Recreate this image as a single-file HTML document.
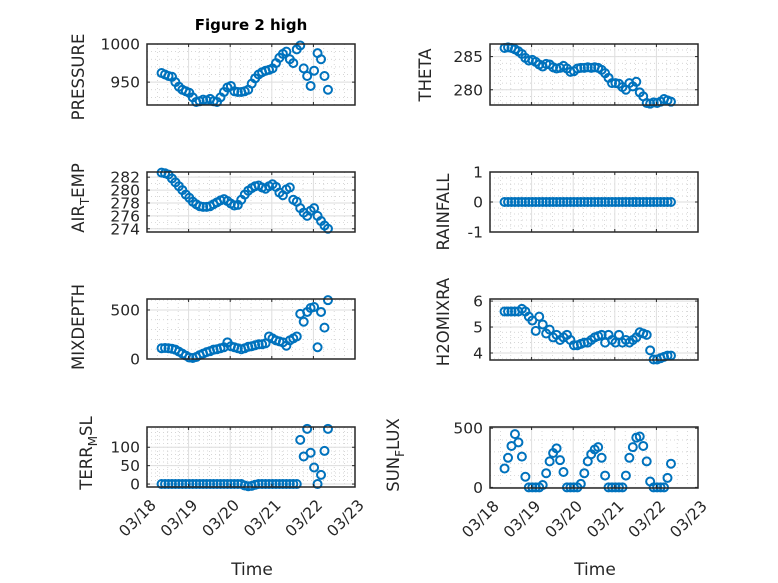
<!DOCTYPE html>
<html><head><meta charset="utf-8"><style>
html,body{margin:0;padding:0;background:#fff;}
svg{display:block;font-family:"DejaVu Sans","Liberation Sans",sans-serif;}
</style></head><body>
<svg id="fig" width="778" height="583" viewBox="0 0 778 583" xmlns="http://www.w3.org/2000/svg">
<rect width="778" height="583" fill="#fff"/>
<text x="251" y="30" text-anchor="middle" font-size="15" font-weight="bold" fill="#000">Figure 2 high</text>
</svg>
<script>
const N = 49; // 2-hourly samples
const tStart = 18.35, tStep = 2/24;
const xTickLabels = ["03/18","03/19","03/20","03/21","03/22","03/23"];
const xTickDays = [18,19,20,21,22,23];

const pressure = [962,960,958,957,950,944,940,938,936,930,924,925,927,926,928,925,924,930,937,943,945,938,937,937,938,940,948,955,960,963,965,966,968,975,982,987,990,980,975,993,998,968,958,945,965,988,980,958,940];
const airTemp = [282.7,282.6,282.4,281.8,281.2,280.6,280,279.3,278.8,278.2,277.8,277.5,277.4,277.4,277.5,277.8,278.1,278.4,278.6,278.3,277.9,277.6,277.7,278.5,279.3,279.9,280.3,280.6,280.7,280.4,280.2,280.6,280.9,280.5,279.6,279.2,280.1,280.4,278.5,278.2,277.2,276.5,276,276.8,277.2,276,275.2,274.5,274];
const mixDepth = [110,112,110,105,95,75,55,35,15,10,20,40,55,70,80,95,100,110,120,170,130,120,110,100,110,125,130,140,150,150,160,230,210,190,180,170,135,190,210,230,460,380,480,520,530,120,480,320,600];
const terrMsl = [0,0,0,0,0,0,0,0,0,0,0,0,0,0,0,0,0,0,0,0,0,0,0,0,-4,-6,-5,-2,0,0,0,0,0,0,0,0,0,0,0,0,120,75,150,85,45,0,25,90,150];
const theta = [286.3,286.4,286.3,286.1,285.8,285.4,284.8,284.4,284.5,284.2,283.8,283.5,283.9,283.8,283.4,283.2,283.3,283.6,283.2,282.7,282.8,283.2,283.3,283.3,283.4,283.3,283.4,283.3,283.0,282.5,281.8,281.0,281.0,280.9,280.4,280.0,281.0,280.5,281.2,279.6,279.0,278.0,277.9,278.1,278.0,278.2,278.6,278.4,278.2];
const rainfall = [0,0,0,0,0,0,0,0,0,0,0,0,0,0,0,0,0,0,0,0,0,0,0,0,0,0,0,0,0,0,0,0,0,0,0,0,0,0,0,0,0,0,0,0,0,0,0,0,0];
const h2oMix = [5.6,5.6,5.6,5.6,5.6,5.7,5.6,5.4,5.25,4.85,5.4,5.1,4.75,4.9,4.6,4.7,4.5,4.6,4.7,4.5,4.3,4.3,4.35,4.4,4.4,4.5,4.6,4.65,4.7,4.4,4.7,4.5,4.4,4.7,4.4,4.5,4.4,4.5,4.6,4.8,4.75,4.7,4.1,3.75,3.75,3.8,3.85,3.9,3.9];
const sunFlux = [160,250,350,450,380,260,90,0,0,0,0,20,120,220,290,330,230,130,0,0,0,0,30,120,220,280,320,340,250,100,0,0,0,0,0,100,250,340,420,430,350,220,50,0,0,0,0,80,200];

const pressureTicks = [950,1000], airTempTicks=[274,276,278,280,282], mixTicks=[0,500], terrTicks=[0,50,100];
const thetaTicks=[280,285], rainTicks=[-1,0,1], h2oTicks=[4,5,6], sunTicks=[0,500];

const svg = document.getElementById('fig');
const NS = "http://www.w3.org/2000/svg";
function mk(tag, attrs, parent){ const e=document.createElementNS(NS,tag); for(const k in attrs) e.setAttribute(k,attrs[k]); (parent||svg).appendChild(e); return e; }

const panels = [
 {name:'pressure', x0:147,x1:355,y0:44,y1:105, ylim:[920,1000], ticks:pressureTicks, minor:10, data:pressure, label:['PRESSURE'], lx:78, ly:77, bottom:false},
 {name:'air-temp', x0:147,x1:355,y0:172,y1:232, ylim:[273.5,282.8], ticks:airTempTicks, minor:1, data:airTemp, label:['AIR','T','EMP'], lx:78, ly:198, bottom:false},
 {name:'mixdepth', x0:147,x1:355,y0:299,y1:359, ylim:[0,612], ticks:mixTicks, minor:100, data:mixDepth, label:['MIXDEPTH'], lx:78, ly:327, bottom:false},
 {name:'terr-msl', x0:147,x1:355,y0:427,y1:487, ylim:[-8,155], ticks:terrTicks, minor:10, data:terrMsl, label:['TERR','M','SL'], lx:86, ly:453, bottom:true},
 {name:'theta', x0:490,x1:698,y0:44,y1:105, ylim:[277.7,286.9], ticks:thetaTicks, minor:1, data:theta, label:['THETA'], lx:425, ly:75, bottom:false},
 {name:'rainfall', x0:490,x1:698,y0:172,y1:232, ylim:[-1,1], ticks:rainTicks, minor:0.2, data:rainfall, label:['RAINFALL'], lx:443, ly:212, bottom:false},
 {name:'h2omixra', x0:490,x1:698,y0:299,y1:360, ylim:[3.73,6.08], ticks:h2oTicks, minor:0.2, data:h2oMix, label:['H2OMIXRA'], lx:443, ly:322, bottom:false},
 {name:'sun-flux', x0:490,x1:698,y0:427,y1:488, ylim:[-5,510], ticks:sunTicks, minor:100, data:sunFlux, label:['SUN','F','LUX'], lx:393, ly:455, bottom:true},
];

panels.forEach(p=>{
  const g = mk('g',{});
  
  
  const xs = t => p.x0 + (t-18)/5*(p.x1-p.x0);
  const ys = v => p.y1 - (v-p.ylim[0])/(p.ylim[1]-p.ylim[0])*(p.y1-p.y0);
  for(let d=18; d<=23; d+=0.25){ if(Math.abs(d-Math.round(d))<1e-6) continue;
    mk('line',{x1:xs(d),x2:xs(d),y1:p.y0,y2:p.y1,stroke:'#c8c8c8','stroke-width':0.7,'stroke-dasharray':'1 3'},g); }
  const m0 = Math.ceil(p.ylim[0]/p.minor)*p.minor;
  for(let v=m0; v<=p.ylim[1]+1e-9; v+=p.minor){
    mk('line',{x1:p.x0,x2:p.x1,y1:ys(v),y2:ys(v),stroke:'#c8c8c8','stroke-width':0.7,'stroke-dasharray':'1 3'},g); }
  xTickDays.forEach(d=> mk('line',{x1:xs(d),x2:xs(d),y1:p.y0,y2:p.y1,stroke:'#dedede','stroke-width':1},g));
  p.ticks.forEach(v=> mk('line',{x1:p.x0,x2:p.x1,y1:ys(v),y2:ys(v),stroke:'#dedede','stroke-width':1},g));
  p.data.forEach((v,i)=>{
    const c = mk('circle',{cx:xs(tStart+i*tStep),cy:ys(v),r:4,fill:'none',stroke:'#0072bd','stroke-width':2},g);
    
    
  });
  const box = mk('rect',{x:p.x0,y:p.y0,width:p.x1-p.x0,height:p.y1-p.y0,fill:'none',stroke:'#262626','stroke-width':1.5},g);
  
  
  xTickDays.forEach(d=>{ mk('line',{x1:xs(d),x2:xs(d),y1:p.y1,y2:p.y1-3,stroke:'#262626','stroke-width':1},g);
    mk('line',{x1:xs(d),x2:xs(d),y1:p.y0,y2:p.y0+3,stroke:'#262626','stroke-width':1},g); });
  p.ticks.forEach(v=>{
    mk('line',{x1:p.x0,x2:p.x0+3,y1:ys(v),y2:ys(v),stroke:'#262626','stroke-width':1},g);
    mk('line',{x1:p.x1,x2:p.x1-3,y1:ys(v),y2:ys(v),stroke:'#262626','stroke-width':1},g);
    const t = mk('text',{x:p.x0-7,y:ys(v)+5.5,'text-anchor':'end','font-size':15.5,fill:'#262626'},g);
    
    
    t.textContent = String(v);
  });
  if(p.bottom){
    xTickDays.forEach((d,k)=>{
      const t = mk('text',{x:0,y:0,'text-anchor':'end','font-size':15.5,fill:'#262626',transform:`translate(${xs(d)+10},${p.y1+19}) rotate(-45)`},g);
      
      
      t.textContent = xTickLabels[k];
    });
    const xl = mk('text',{x:(p.x0+p.x1)/2+1,y:575,'text-anchor':'middle','font-size':17,fill:'#262626'},g);
    
    
    xl.textContent='Time';
  }
  const yl = mk('text',{x:0,y:0,'text-anchor':'middle','font-size':16.5,fill:'#262626',transform:`translate(${p.lx+6},${p.ly}) rotate(-90)`},g);
  
  
  if(p.label.length===1){ yl.textContent=p.label[0]; }
  else {
    const a=mk('tspan',{},yl); a.textContent=p.label[0];
    const b=mk('tspan',{dy:5,'font-size':12},yl); b.textContent=p.label[1];
    const c=mk('tspan',{dy:-5},yl); c.textContent=p.label[2];
  }
});
</script>
</body></html>
